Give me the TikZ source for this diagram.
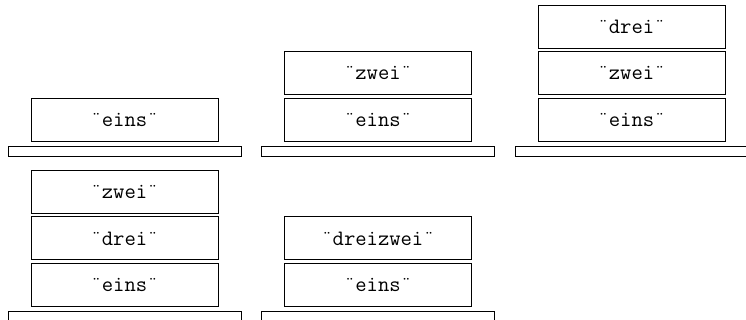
\documentclass[tikz,border=0pt]{standalone}
\usetikzlibrary{positioning}
\begin{document}
\begin{tikzpicture}[x=0.5pt,y=-0.5pt,
  teller/.style={draw,minimum width=116.5pt,minimum height=5pt,inner sep=0pt},
  elem/.style={draw,minimum width=93.5pt,minimum height=21.5pt,inner sep=0pt,
    font=\fontsize{11}{13}\selectfont\ttfamily},
  node distance=1.5pt]
\useasboundingbox (0,0) rectangle (746,320);

% Stapel oben
\node[teller] (tellerA) at (124.5,151) {};
\node[elem,above=1.75pt of tellerA] (einsA) {¨eins¨};

\node[teller] (tellerB) at (378,151) {};
\node[elem,above=1.75pt of tellerB] (einsB) {¨eins¨};
\node[elem,above=of einsB] (zweiB) {¨zwei¨};

\node[teller] (tellerC) at (631.5,151) {};
\node[elem,above=1.75pt of tellerC] (einsC) {¨eins¨};
\node[elem,above=of einsC] (zweiC) {¨zwei¨};
\node[elem,above=of zweiC] (dreiC) {¨drei¨};

% Stapel unten
\node[teller] (tellerD) at (124.5,316) {};
\node[elem,above=1.75pt of tellerD] (einsD) {¨eins¨};
\node[elem,above=of einsD] (dreiD) {¨drei¨};
\node[elem,above=of dreiD] (zweiD) {¨zwei¨};

\node[teller] (tellerE) at (378,316) {};
\node[elem,above=1.75pt of tellerE] (einsE) {¨eins¨};
\node[elem,above=of einsE] (dreizweiE) {¨dreizwei¨};

\end{tikzpicture}
\end{document}
